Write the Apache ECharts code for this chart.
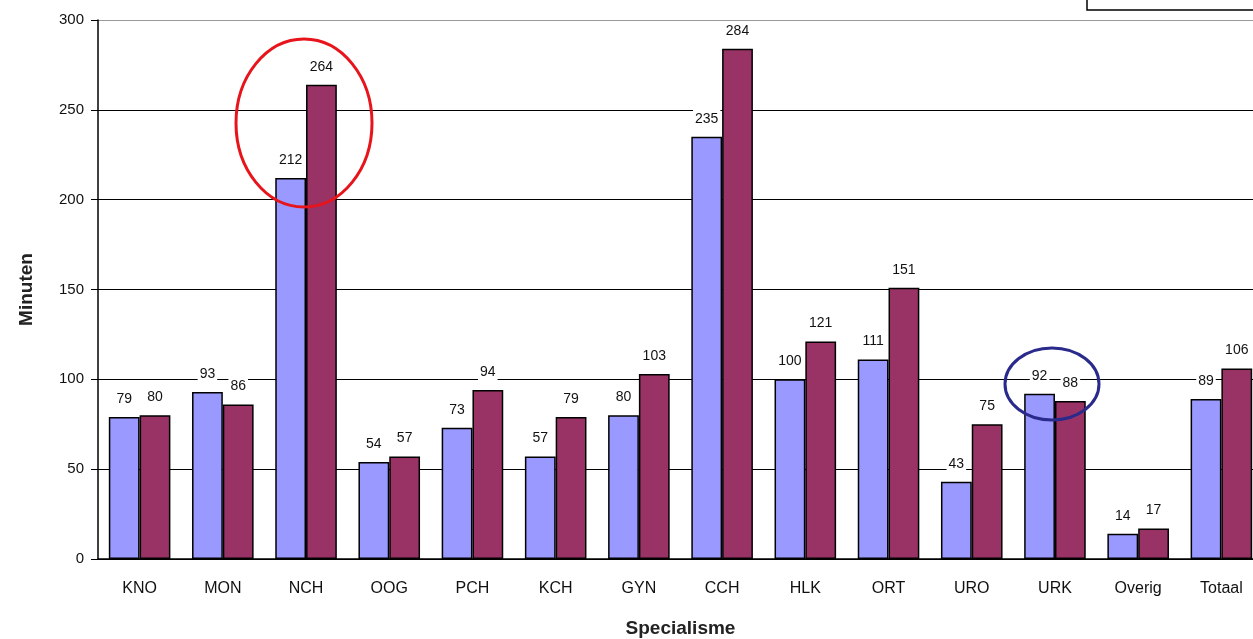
<!DOCTYPE html>
<html lang="nl">
<head>
    <meta charset="UTF-8">
    <script src="https://cdn.jsdelivr.net/npm/echarts@6/dist/echarts.min.js"></script>
    <style>
        html, body { margin: 0; padding: 0; background: #fff; }
        #chart { width: 1253px; height: 639px; }
    </style>
</head>
<body>
    <div id="chart"></div>
    <script>
        // categories + values
        const specialismen = ['KNO', 'MON', 'NCH', 'OOG', 'PCH', 'KCH', 'GYN', 'CCH', 'HLK', 'ORT', 'URO', 'URK', 'Overig', 'Totaal'];
        const reeksBlauw = [79, 93, 212, 54, 73, 57, 80, 235, 100, 111, 43, 92, 14, 89];
        const reeksRood = [80, 86, 264, 57, 94, 79, 103, 284, 121, 151, 75, 88, 17, 106];
        const yTicks = [0, 50, 100, 150, 200, 250, 300];

        const font = 'Liberation Sans, Arial, sans-serif';

        const labelStyle = {
            show: true,
            position: 'top',
            distance: 10,
            color: '#111',
            fontFamily: font,
            fontSize: 14,
            backgroundColor: '#fff',
            padding: [2, 2, 1, 2]
        };

        const chart = echarts.init(document.getElementById('chart'));
        chart.setOption({
            animation: false,
            backgroundColor: '#fff',
            // plot runs past the right edge, like the cropped original
            grid: { left: 98, top: 20, width: 1165, height: 539, outerBoundsMode: 'none', containLabel: false },
            xAxis: {
                type: 'category',
                data: specialismen,
                name: 'Specialisme',
                nameLocation: 'middle',
                nameGap: 60,
                nameTextStyle: { fontFamily: font, fontSize: 19, fontWeight: 'bold', color: '#222' },
                axisLine: { lineStyle: { color: '#000', width: 1.5 } },
                axisTick: { length: 6, lineStyle: { color: '#000' } },
                axisLabel: { fontFamily: font, fontSize: 16, color: '#111', margin: 22 }
            },
            yAxis: {
                type: 'value',
                min: yTicks[0],
                max: yTicks[yTicks.length - 1],
                interval: 50,
                name: 'Minuten',
                nameLocation: 'middle',
                nameGap: 62,
                nameRotate: 90,
                nameTextStyle: { fontFamily: font, fontSize: 19, fontWeight: 'bold', color: '#222' },
                axisLine: { show: true, lineStyle: { color: '#000', width: 1.5 } },
                axisTick: { show: true, length: 7, lineStyle: { color: '#000' } },
                axisLabel: { fontFamily: font, fontSize: 15, color: '#111', margin: 14 },
                splitLine: { lineStyle: { color: ['#000', '#000', '#000', '#000', '#000', '#000', '#999'], width: 1 } }
            },
            series: [
                {
                    type: 'bar',
                    data: reeksBlauw,
                    barGap: '0%',
                    barCategoryGap: '26%',
                    itemStyle: { color: '#9999ff', borderColor: '#000', borderWidth: 1.5 },
                    label: labelStyle
                },
                {
                    type: 'bar',
                    data: reeksRood,
                    itemStyle: { color: '#993366', borderColor: '#000', borderWidth: 1.5 },
                    label: labelStyle
                }
            ],
            graphic: [
                // legend box, cut off at the top edge
                {
                    type: 'rect',
                    shape: { x: 1087, y: -30, width: 200, height: 40 },
                    style: { fill: '#fff', stroke: '#000', lineWidth: 1.5 },
                    z: 100
                },
                // annotation circles
                {
                    type: 'ellipse',
                    shape: { cx: 304, cy: 123, rx: 68, ry: 84 },
                    style: { fill: 'none', stroke: '#e8141b', lineWidth: 3 },
                    z: 100
                },
                {
                    type: 'ellipse',
                    shape: { cx: 1052, cy: 384, rx: 47, ry: 36 },
                    style: { fill: 'none', stroke: '#2a2a8c', lineWidth: 3 },
                    z: 100
                }
            ]
        });
    </script>
</body>
</html>
